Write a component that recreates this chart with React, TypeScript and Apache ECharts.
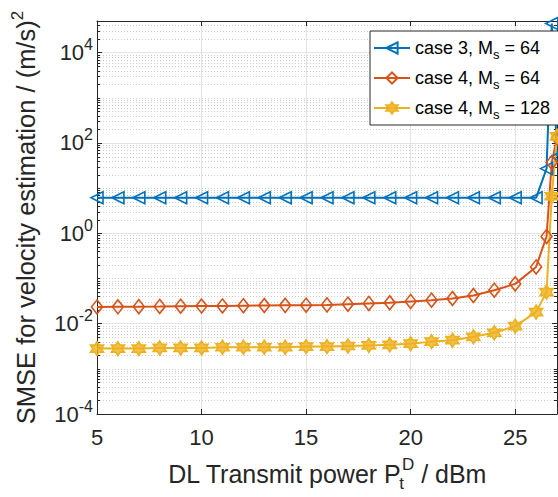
import React, { useEffect, useRef } from 'react';
import * as echarts from 'echarts';

// ---------- data ----------
const xValues = [5, 6, 7, 8, 9, 10, 11, 12, 13, 14, 15, 16, 17, 18, 19, 20, 21, 22, 23, 24, 25, 26, 26.5, 26.75, 27];
const case3Ms64 = [6.1, 6.1, 6.1, 6.1, 6.1, 6.1, 6.1, 6.1, 6.1, 6.1, 6.1, 6.1, 6.1, 6.1, 6.1, 6.1, 6.1, 6.1, 6.1, 6.1, 6.1, 6.1, 27, 44000, 50];
const case4Ms64 = [0.0234, 0.0236, 0.0238, 0.024, 0.0243, 0.0245, 0.0247, 0.025, 0.0252, 0.0254, 0.0256, 0.026, 0.027, 0.028, 0.029, 0.031, 0.033, 0.036, 0.042, 0.055, 0.076, 0.18, 0.85, 37, 130];
const case4Ms128 = [0.0028, 0.0028, 0.0028, 0.0029, 0.0029, 0.0029, 0.003, 0.003, 0.003, 0.003, 0.0031, 0.0031, 0.0032, 0.0033, 0.0034, 0.0036, 0.004, 0.0043, 0.0051, 0.0063, 0.0088, 0.018, 0.05, 6.6, 140];
const seriesNames = ['case 3, Ms = 64', 'case 4, Ms = 64', 'case 4, Ms = 128'];
const legendLabels = ['case 3, M{sub|s} = 64', 'case 4, M{sub|s} = 64', 'case 4, M{sub|s} = 128'];
const xTickValues = [5, 10, 15, 20, 25];
const yTickExponents = [-4, -2, 0, 2, 4];
const minorMultipliers = [1, 2, 3, 4, 5, 6, 7, 8, 9];
const decadeExponents = [-4, -3, -2, -1, 0, 1, 2, 3, 4];

const X_MIN = 5;
const X_MAX = 27;
const Y_MIN = 1e-4;
const Y_MAX = 5e4;

const FONT = "'Liberation Sans', Arial, Helvetica, sans-serif";
const AX = '#262626';
const BLUE = '#0072BD';
const ORANGE = '#D95319';
const YELLOW = '#EDB120';
const HEXAGRAM = 'path://M100,0 L71.1,50 L13.4,50 L42.3,100 L13.4,150 L71.1,150 L100,200 L128.9,150 L186.6,150 L157.7,100 L186.6,50 L128.9,50 Z';

// minor (unlabelled) log ticks: all k*10^e except the labelled decades
const minorValues: number[] = [];
decadeExponents.forEach((e) => {
  minorMultipliers.forEach((m) => {
    if (m === 1 && yTickExponents.indexOf(e) >= 0) return;
    const v = m * Math.pow(10, e);
    if (v > Y_MIN && v < Y_MAX) minorValues.push(v);
  });
});

export default function App() {
  const ref = useRef<HTMLDivElement>(null);
  useEffect(() => {
    if (!ref.current) return;
    const chart = echarts.init(ref.current, undefined, { renderer: 'svg' });

    const lineSeries = (name: string, vals: number[], color: string, symbol: string, size: any, rotate: number, fill: string) => ({
      name,
      type: 'line',
      data: xValues.map((x, i) => [x, vals[i]]),
      symbol,
      symbolSize: size,
      symbolRotate: rotate,
      showAllSymbol: true,
      lineStyle: { color, width: 2 },
      itemStyle: { color: fill, borderColor: color, borderWidth: 1.6 },
      emphasis: { disabled: true },
      z: 3,
    });

    const option: any = {
      animation: false,
      grid: { left: 97, right: 1, top: 21, bottom: 81, containLabel: false },
      textStyle: { fontFamily: FONT },
      legend: {
        data: seriesNames,
        orient: 'vertical',
        left: 370,
        top: 31,
        padding: [4, 10, 4, 3],
        itemGap: 4,
        itemWidth: 36,
        itemHeight: 14,
        backgroundColor: '#ffffff',
        borderColor: AX,
        borderWidth: 1,
        borderRadius: 0,
        formatter: (name: string) => legendLabels[seriesNames.indexOf(name)],
        textStyle: {
          fontFamily: FONT,
          fontSize: 18,
          color: '#000',
          lineHeight: 26,
          rich: {
            sub: { fontFamily: FONT, fontSize: 13, lineHeight: 12, verticalAlign: 'bottom', color: '#000' },
          },
        },
        selectedMode: false,
      },
      xAxis: [
        {
          type: 'value',
          min: X_MIN,
          max: X_MAX,
          interval: 5,
          name: 'DL Transmit power P{sub|t}{sup|D} / dBm',
          nameLocation: 'middle',
          nameGap: 42,
          nameTextStyle: {
            fontFamily: FONT,
            fontSize: 25,
            color: AX,
            lineHeight: 36,
            rich: {
              sub: { fontFamily: FONT, fontSize: 17, lineHeight: 17, verticalAlign: 'bottom', width: 0.5, color: AX },
              sup: { fontFamily: FONT, fontSize: 17, lineHeight: 17, verticalAlign: 'top', color: AX },
            },
          },
          axisLine: { show: true, onZero: false, lineStyle: { color: AX, width: 1 } },
          axisTick: { show: true, inside: true, length: 5, lineStyle: { color: AX } },
          axisLabel: {
            show: true,
            margin: 12,
            fontFamily: FONT,
            fontSize: 22,
            color: AX,
            showMaxLabel: false,
            formatter: (v: number) => (xTickValues.indexOf(v) >= 0 ? String(v) : ''),
          },
          splitLine: { show: true, lineStyle: { color: '#e3e3e3', width: 1 } },
        },
        {
          type: 'value',
          position: 'top',
          min: X_MIN,
          max: X_MAX,
          interval: 5,
          axisLine: { show: true, onZero: false, lineStyle: { color: AX, width: 1 } },
          axisTick: { show: true, inside: true, length: 5, lineStyle: { color: AX } },
          axisLabel: { show: false },
          splitLine: { show: false },
        },
      ],
      yAxis: [
        {
          type: 'log',
          logBase: 10,
          min: Y_MIN,
          max: Y_MAX,
          interval: 2,
          name: 'SMSE for velocity estimation / (m/s){sup|2}',
          nameLocation: 'middle',
          nameGap: 52,
          nameRotate: 90,
          nameTextStyle: {
            fontFamily: FONT,
            fontSize: 25.5,
            color: AX,
            lineHeight: 34,
            rich: {
              sup: { fontFamily: FONT, fontSize: 17, lineHeight: 17, verticalAlign: 'top', color: AX },
            },
          },
          axisLine: { show: true, onZero: false, lineStyle: { color: AX, width: 1 } },
          axisTick: { show: true, inside: true, length: 5, lineStyle: { color: AX } },
          axisLabel: {
            show: true,
            margin: 4,
            fontFamily: FONT,
            fontSize: 22,
            color: AX,
            lineHeight: 32,
            showMaxLabel: false,
            formatter: (v: number) => {
              const e = Math.round(Math.log10(v));
              if (Math.abs(Math.log10(v) - e) > 1e-6 || yTickExponents.indexOf(e) < 0) return '';
              return '10{sup|' + e + '}';
            },
            rich: {
              sup: { fontFamily: FONT, fontSize: 16, lineHeight: 16, verticalAlign: 'top', color: AX },
            },
          },
          splitLine: { show: true, lineStyle: { color: '#e3e3e3', width: 1 } },
        },
        {
          type: 'log',
          logBase: 10,
          position: 'right',
          min: Y_MIN,
          max: Y_MAX,
          interval: 2,
          axisLine: { show: true, onZero: false, lineStyle: { color: AX, width: 1 } },
          axisTick: { show: true, inside: true, length: 5, lineStyle: { color: AX } },
          axisLabel: { show: false },
          splitLine: { show: false },
        },
      ],
      series: [
        {
          type: 'custom',
          name: 'minor-grid',
          silent: true,
          z: 1,
          data: [[X_MIN, 1]],
          renderItem: (_params: any, api: any) => {
            const xL = api.coord([X_MIN, 1])[0];
            const xR = api.coord([X_MAX, 1])[0];
            const children: any[] = [];
            minorValues.forEach((v) => {
              const y = Math.round(api.coord([X_MIN, v])[1]) + 0.5;
              children.push({ type: 'line', shape: { x1: xL, y1: y, x2: xR, y2: y }, style: { stroke: '#cdcdcd', lineWidth: 1, lineDash: [1, 2] } });
              children.push({ type: 'line', shape: { x1: xL, y1: y, x2: xL + 3, y2: y }, style: { stroke: AX, lineWidth: 1 } });
              children.push({ type: 'line', shape: { x1: xR - 3, y1: y, x2: xR, y2: y }, style: { stroke: AX, lineWidth: 1 } });
            });
            return { type: 'group', children };
          },
        },
        lineSeries(seriesNames[0], case3Ms64, BLUE, 'triangle', 12, 90, 'rgba(255,255,255,0)'),
        lineSeries(seriesNames[1], case4Ms64, ORANGE, 'diamond', [11, 14], 0, 'rgba(255,255,255,0)'),
        lineSeries(seriesNames[2], case4Ms128, YELLOW, HEXAGRAM, [13, 14], 0, 'rgba(237,177,32,0.8)'),
      ],
    };
    chart.setOption(option);
    return () => chart.dispose();
  }, []);
  return <div ref={ref} style={{ position: 'fixed', left: 0, top: 0, width: 558, height: 497, background: '#fff' }} />;
}
